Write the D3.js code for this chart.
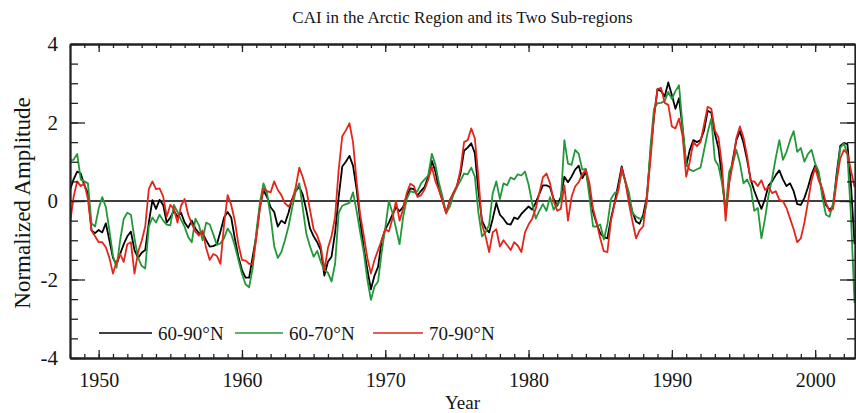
<!DOCTYPE html>
<html>
<head>
<meta charset="utf-8">
<script src="https://cdn.jsdelivr.net/npm/d3@7"></script>
<style>
  body { margin: 0; background: #fff; }
  svg { display: block; }
  text { font-family: "Liberation Serif", "Times New Roman", serif; fill: #151515; }
</style>
</head>
<body>
<svg id="chart" width="856" height="413"></svg>
<script>
// Quarterly CAI values, first value = 1948.00, four values per year
const startYear = 1948;
const stepsPerYear = 4;

const cai6090 = [
  0.28, 0.55, 0.75, 0.70,   0.40, 0.20, -0.75, -0.82,   // 1948-49
  -0.74, -0.80, -0.57, -1.00,   -1.45, -1.62, -1.35, -1.10,   // 1950-51
  -0.90, -0.78, -1.25, -1.45,   -1.32, -1.25, -0.55, 0.02,   // 1952-53
  -0.20, 0.03, -0.10, -0.55,   -0.42, -0.25, -0.40, -0.30,   // 1954-55
  -0.55, -0.68, -0.50, -0.70,   -0.82, -0.82, -1.00, -1.16,   // 1956-57
  -1.15, -1.10, -0.78, -0.42,   -0.28, -0.42, -0.95, -1.42,   // 1958-59
  -1.76, -1.95, -1.95, -1.42,   -0.88, -0.15, 0.28, 0.10,   // 1960-61
  -0.16, -0.28, -0.65, -0.50,   -0.57, -0.30, 0.05, 0.25,   // 1962-63
  0.37, 0.15, -0.25, -0.70,   -0.90, -1.05, -1.25, -1.90,   // 1964-65
  -1.55, -1.42, -0.80, 0.10,   0.88, 1.00, 1.15, 0.90,   // 1966-67
  0.30, -0.50, -1.20, -1.75,   -2.25, -1.90, -1.68, -1.00,   // 1968-69
  -0.72, -0.55, -0.35, -0.16,   -0.26, -0.15, 0.12, 0.32,   // 1970-71
  0.30, 0.14, 0.26, 0.36,   0.62, 1.02, 0.75, 0.30,   // 1972-73
  0.00, -0.30, 0.00, 0.20,   0.38, 0.70, 1.28, 1.36,   // 1974-75
  1.47, 1.22, 0.25, -0.50,   -0.70, -0.80, -0.45, -0.05,   // 1976-77
  -0.35, -0.45, -0.58, -0.60,   -0.42, -0.46, -0.33, -0.23,   // 1978-79
  -0.14, -0.22, -0.04, 0.18,   0.40, 0.40, 0.35, 0.05,   // 1980-81
  -0.12, 0.10, 0.62, 0.48,   0.62, 0.80, 0.90, 0.58,   // 1982-83
  0.75, 0.28, -0.28, -0.57,   -0.82, -0.92, -0.95, -0.45,   // 1984-85
  -0.05, 0.40, 0.88, 0.50,   0.08, -0.28, -0.52, -0.58,   // 1986-87
  -0.35, 0.10, 1.20, 2.15,   2.85, 2.80, 2.66, 3.02,   // 1988-89
  2.70, 2.35, 2.62, 1.85,   0.90, 1.30, 1.55, 1.50,   // 1990-91
  1.55, 1.80, 2.30, 2.25,   1.72, 1.35, 0.60, -0.28,   // 1992-93
  0.50, 1.05, 1.55, 1.78,   1.48, 1.05, 0.55, 0.26,   // 1994-95
  0.02, -0.20, 0.05, 0.40,   0.50, 0.66, 0.78, 0.55,   // 1996-97
  0.38, 0.45, 0.25, -0.08,   -0.10, 0.08, 0.35, 0.68,   // 1998-99
  0.90, 0.68, 0.20, -0.10,   -0.22, -0.14, 0.70, 1.40,   // 2000-01
  1.48, 1.45, 0.40, -1.10    // 2002
];

const cai6070 = [
  1.04, 1.05, 1.20, 0.55,   0.50, 0.45, -0.57, -0.65,   // 1948-49
  -0.20, 0.10, -0.15, -0.75,   -1.40, -1.70, -1.00, -0.45,   // 1950-51
  -0.30, -0.35, -0.95, -1.45,   -1.65, -1.72, -0.65, -0.42,   // 1952-53
  -0.55, -0.35, -0.50, -0.60,   -0.62, -0.10, -0.28, -0.48,   // 1954-55
  -0.66, -0.92, -1.05, -0.45,   -0.62, -1.00, -0.55, -0.60,   // 1956-57
  -0.85, -1.12, -1.08, -0.95,   -0.70, -0.84, -1.14, -1.50,   // 1958-59
  -1.86, -2.12, -2.20, -1.70,   -0.80, -0.05, 0.45, 0.20,   // 1960-61
  -0.40, -1.15, -1.45, -1.30,   -1.00, -0.65, -0.18, 0.25,   // 1962-63
  0.45, -0.20, -0.85, -1.16,   -1.42, -1.27, -1.55, -1.76,   // 1964-65
  -1.83, -2.05, -1.60, -0.30,   -0.12, -0.08, -0.05, 0.22,   // 1966-67
  -0.25, -0.80, -1.30, -2.00,   -2.52, -2.18, -2.05, -1.30,   // 1968-69
  -0.70, 0.00, -0.30, -0.70,   -1.10, -0.40, 0.05, 0.25,   // 1970-71
  0.22, 0.25, 0.45, 0.55,   0.65, 1.20, 0.92, 0.45,   // 1972-73
  0.10, -0.30, -0.15, 0.15,   0.35, 0.52, 0.70, 0.68,   // 1974-75
  0.85, 0.62, -0.30, -0.90,   -0.80, -0.60, 0.20, 0.50,   // 1976-77
  0.05, 0.45, 0.40, 0.60,   0.55, 0.68, 0.65, 0.75,   // 1978-79
  0.42, -0.05, -0.45, -0.25,   -0.08, -0.25, 0.10, -0.22,   // 1980-81
  -0.08, 0.00, 1.55, 0.95,   0.92, 1.30, 1.20, 0.80,   // 1982-83
  0.82, 0.10, -0.65, -0.65,   -0.60, -0.98, -0.60, 0.05,   // 1984-85
  0.20, 0.25, 0.75, 0.52,   0.22, -0.30, -0.40, -0.45,   // 1986-87
  -0.45, -0.05, 1.35, 2.35,   2.49, 2.50, 2.55, 2.78,   // 1988-89
  2.60, 2.80, 2.95, 1.90,   0.94, 0.80, 0.76, 0.81,   // 1990-91
  0.85, 1.30, 1.75, 2.10,   1.05, 0.90, 0.45, -0.22,   // 1992-93
  0.75, 0.95, 1.30, 0.96,   0.45, 0.55, 0.35, -0.25,   // 1994-95
  -0.18, -0.95, -0.45, 0.15,   0.58, 1.10, 1.55, 1.05,   // 1996-97
  1.25, 1.55, 1.78, 1.25,   1.35, 1.00, 1.20, 1.30,   // 1998-99
  0.95, 0.75, 0.10, -0.35,   -0.40, -0.05, 0.60, 1.35,   // 2000-01
  1.47, 1.20, -0.40, -2.60    // 2002
];

const cai7090 = [
  -0.57, 0.10, 0.50, 0.38,   0.45, 0.05, -0.75, -0.90,   // 1948-49
  -1.05, -1.05, -1.18, -1.45,   -1.85, -1.55, -1.35, -1.55,   // 1950-51
  -1.10, -1.05, -1.85, -1.30,   -1.02, -0.65, 0.30, 0.50,   // 1952-53
  0.30, 0.32, 0.12, -0.40,   -0.10, -0.20, -0.55, -0.12,   // 1954-55
  0.05, -0.35, -0.58, -0.78,   -0.88, -0.75, -1.20, -1.50,   // 1956-57
  -1.35, -1.40, -1.60, -0.60,   0.15, -0.10, -0.50, -1.10,   // 1958-59
  -1.50, -1.52, -1.60, -1.60,   -0.95, -0.20, 0.32, 0.25,   // 1960-61
  0.22, 0.50, 0.28, 0.15,   -0.06, -0.14, 0.00, 0.35,   // 1962-63
  0.85, 0.60, 0.28, -0.23,   -0.72, -0.88, -1.15, -1.76,   // 1964-65
  -1.20, -0.90, -0.40, 0.80,   1.65, 1.80, 1.98, 1.50,   // 1966-67
  0.50, -0.35, -0.88, -1.45,   -1.85, -1.50, -1.25, -1.00,   // 1968-69
  -0.72, -0.78, -0.45, 0.00,   -0.50, -0.20, 0.20, 0.44,   // 1970-71
  0.38, 0.10, 0.15, 0.30,   0.55, 0.87, 0.50, 0.28,   // 1972-73
  0.00, -0.32, 0.02, 0.20,   0.38, 0.80, 1.50, 1.55,   // 1974-75
  1.85, 1.60, 0.60, -0.60,   -0.90, -1.30, -0.80, -0.72,   // 1976-77
  -1.16, -1.00, -1.12, -1.25,   -1.05, -1.14, -1.30, -0.80,   // 1978-79
  -0.60, -0.45, -0.20, 0.20,   0.60, 0.70, 0.45, 0.00,   // 1980-81
  -0.25, -0.20, 0.40, -0.50,   0.10, 0.37, 0.48, 0.68,   // 1982-83
  0.80, 0.45, -0.20, -0.55,   -0.95, -1.28, -1.30, -0.50,   // 1984-85
  -0.08, 0.25, 0.85, 0.50,   -0.05, -0.52, -0.95, -0.75,   // 1986-87
  -0.65, 0.10, 1.00, 2.15,   2.85, 2.88, 2.50, 2.45,   // 1988-89
  1.90, 1.85, 2.10, 1.65,   0.62, 1.00, 1.50, 1.40,   // 1990-91
  1.50, 1.95, 2.40, 2.35,   1.80, 1.62, 0.90, -0.50,   // 1992-93
  0.45, 0.95, 1.60, 1.90,   1.62, 1.15, 0.50, 0.50,   // 1994-95
  0.38, 0.53, 0.28, 0.36,   0.20, 0.25, 0.03, 0.00,   // 1996-97
  -0.18, -0.45, -0.72, -1.05,   -0.95, -0.55, -0.02, 0.53,   // 1998-99
  0.85, 0.52, 0.32, -0.05,   -0.26, -0.20, 0.50, 1.08,   // 2000-01
  1.30, 1.20, 0.78, 0.35    // 2002
];

const seriesNames = ["60-90°N", "60-70°N", "70-90°N"];
const seriesColors = ["#000000", "#22983a", "#e2261c"];
const xTickYears = [1950, 1960, 1970, 1980, 1990, 2000];
const yTickValues = [-4, -2, 0, 2, 4];
const titleText = "CAI in the Arctic Region and its Two Sub-regions";
const xAxisTitle = "Year";
const yAxisTitle = "Normalized Amplitude";

const svg = d3.select("#chart");
const W = 856, H = 413;
const plot = { left: 70, right: 855, top: 44, bottom: 358 };

const x = d3.scaleLinear().domain([1948, 2002.78]).range([plot.left, plot.right]);
const y = d3.scaleLinear().domain([-4, 4]).range([plot.bottom, plot.top]);

const series = [cai6090, cai6070, cai7090].map((vals, k) => ({
  name: seriesNames[k],
  color: seriesColors[k],
  points: vals.map((v, i) => ({ year: startYear + i / stepsPerYear, value: v }))
}));

svg.append("rect").attr("width", W).attr("height", H).attr("fill", "#fff");

// clip region for the curves
svg.append("defs").append("clipPath").attr("id", "plotClip")
  .append("rect")
  .attr("x", plot.left).attr("y", plot.top)
  .attr("width", plot.right - plot.left).attr("height", plot.bottom - plot.top);

// zero reference line
svg.append("line")
  .attr("x1", plot.left).attr("x2", plot.right)
  .attr("y1", y(0)).attr("y2", y(0))
  .attr("stroke", "#000").attr("stroke-width", 1.6);

// data curves
const line = d3.line().x(d => x(d.year)).y(d => y(d.value));
const curves = svg.append("g").attr("clip-path", "url(#plotClip)");
series.forEach(s => {
  curves.append("path")
    .datum(s.points)
    .attr("fill", "none")
    .attr("stroke", s.color)
    .attr("stroke-width", 1.8)
    .attr("stroke-linejoin", "round")
    .attr("d", line);
});

// axes: inward ticks on all four sides
const allYears = d3.range(1948, 2003);
const halfSteps = d3.range(-4, 4.01, 0.5);
function styleAxis(g) {
  g.selectAll("path.domain").attr("stroke", "#222").attr("stroke-width", 1.8);
  g.selectAll(".tick line").attr("stroke", "#222").attr("stroke-width", 1.3);
}

const axisBottomG = svg.append("g").attr("transform", `translate(0,${plot.bottom})`);
axisBottomG.append("g").call(d3.axisBottom(x).tickValues(allYears).tickSize(-4).tickSizeOuter(0).tickFormat(""))
  .call(styleAxis);
axisBottomG.append("g").call(d3.axisBottom(x).tickValues(xTickYears).tickSize(-8).tickSizeOuter(0)
    .tickPadding(15).tickFormat(d => String(d)))
  .call(styleAxis)
  .call(g => g.selectAll("text").attr("font-size", 20).attr("fill", "#151515"));

const axisTopG = svg.append("g").attr("transform", `translate(0,${plot.top})`);
axisTopG.append("g").call(d3.axisTop(x).tickValues(allYears).tickSize(-4).tickSizeOuter(0).tickFormat(""))
  .call(styleAxis);
axisTopG.append("g").call(d3.axisTop(x).tickValues(xTickYears).tickSize(-8).tickSizeOuter(0).tickFormat(""))
  .call(styleAxis);

const axisLeftG = svg.append("g").attr("transform", `translate(${plot.left},0)`);
axisLeftG.append("g").call(d3.axisLeft(y).tickValues(halfSteps).tickSize(-8).tickSizeOuter(0).tickFormat(""))
  .call(styleAxis);
axisLeftG.append("g").call(d3.axisLeft(y).tickValues(yTickValues).tickSize(-15).tickSizeOuter(0)
    .tickPadding(12).tickFormat(d => String(d)))
  .call(styleAxis)
  .call(g => g.selectAll("text").attr("font-size", 21).attr("fill", "#151515"));

const axisRightG = svg.append("g").attr("transform", `translate(${plot.right},0)`);
axisRightG.append("g").call(d3.axisRight(y).tickValues(halfSteps).tickSize(-8).tickSizeOuter(0).tickFormat(""))
  .call(styleAxis);
axisRightG.append("g").call(d3.axisRight(y).tickValues(yTickValues).tickSize(-15).tickSizeOuter(0).tickFormat(""))
  .call(styleAxis);

// titles
svg.append("text")
  .attr("x", (plot.left + plot.right) / 2).attr("y", 23)
  .attr("text-anchor", "middle").attr("font-size", 17)
  .text(titleText);

svg.append("text")
  .attr("x", (plot.left + plot.right) / 2).attr("y", 409)
  .attr("text-anchor", "middle").attr("font-size", 19)
  .text(xAxisTitle);

svg.append("text")
  .attr("transform", `translate(30,${(plot.top + plot.bottom) / 2 + 2}) rotate(-90)`)
  .attr("text-anchor", "middle").attr("font-size", 23)
  .text(yAxisTitle);

// legend
const legendItems = [
  { x0: 99, x1: 152 },
  { x0: 235, x1: 283 },
  { x0: 373, x1: 423 }
];
const legendY = 333;
const legendG = svg.append("g");
series.forEach((s, k) => {
  const pos = legendItems[k];
  legendG.append("line")
    .attr("x1", pos.x0).attr("x2", pos.x1)
    .attr("y1", legendY).attr("y2", legendY)
    .attr("stroke", s.color).attr("stroke-width", 1.6);
  legendG.append("text")
    .attr("x", pos.x1 + 6).attr("y", legendY + 6.5)
    .attr("font-size", 19)
    .text(s.name);
});
</script>
</body>
</html>
